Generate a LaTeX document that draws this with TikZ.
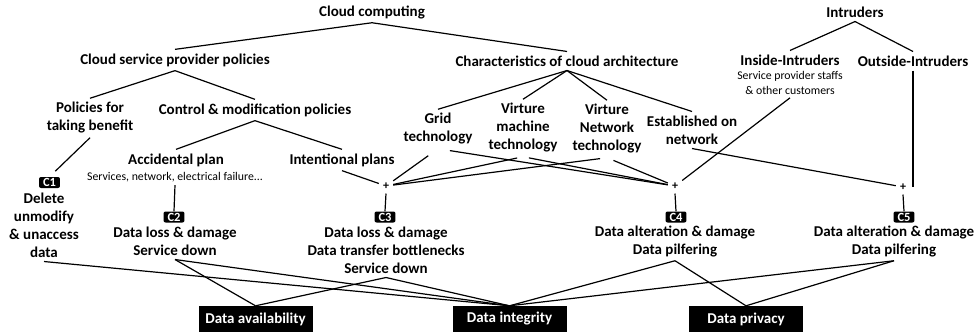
\documentclass[tikz,border=0pt]{standalone}
\usepackage{fontspec}
\setmainfont{Carlito}

\begin{document}
\begin{tikzpicture}[x=1pt, y=-1pt,
    topic/.style ={font=\fontsize{15}{18}\selectfont\bfseries, align=center, inner sep=4pt},
    remark/.style ={font=\fontsize{11.8}{15}\selectfont, align=center, inner sep=3pt},
    badge/.style ={fill=black, text=white, rounded corners=2pt, font=\fontsize{12.5}{13}\selectfont\bfseries,
                   inner xsep=4pt, inner ysep=1.5pt, text height=8pt, text depth=0pt},
    joint/.style ={font=\fontsize{12}{12}\selectfont\bfseries, inner sep=4pt},
    goal/.style ={fill=black, text=white, font=\fontsize{15}{18}\selectfont\bfseries,
                  minimum width=114pt, minimum height=26pt, inner sep=0pt}]
   \useasboundingbox (0,0) rectangle (975,332);
   % roots
   \node[topic] (cloud) at (372,12) {Cloud computing};
   \node[topic] (intr) at (855,12) {Intruders};
   \node[topic] (csp) at (175,60) {Cloud service provider policies};
   \node[topic] (arch) at (567,61) {Characteristics of cloud architecture};
   \node[topic] (inside) at (790,60) {Inside-Intruders};
   \node[remark] (insnote) at (790,83) {Service provider staffs\\\& other customers};
   \node[topic] (outside) at (913,61) {Outside-Intruders};
   % second level
   \node[topic] (benefit) at (90,118) {Policies for\\taking benefit};
   \node[topic] (control) at (255,110) {Control \& modification policies};
   \node[topic] (accid) at (176,160) {Accidental plan};
   \node[remark] (accnote) at (175,177) {Services, network, electrical failure...};
   \node[topic] (intent) at (342,160) {Intentional plans};
   \node[topic] (grid) at (438,129) {Grid\\technology};
   \node[topic] (vm) at (523,128) {Virture\\machine\\technology};
   \node[topic] (vn) at (607,129) {Virture\\Network\\technology};
   \node[topic] (est) at (692,130) {Established on\\network};
   % joints
   \node[joint] (plus3) at (386,186) {+};
   \node[joint] (plus4) at (675,186) {+};
   \node[joint] (plus5) at (903,187) {+};
   % consequences
   \node[badge] (c1) at (49.5,182.5) {C1};
   \node[topic] (t1) at (44,225) {Delete\\unmodify\\\& unaccess\\data};
   \node[badge] (c2) at (174,217) {C2};
   \node[topic] (t2) at (175,241) {Data loss \& damage\\Service down};
   \node[badge] (c3) at (385,217) {C3};
   \node[topic] (t3) at (386,250) {Data loss \& damage\\Data transfer bottlenecks\\Service down};
   \node[badge] (c4) at (676,217) {C4};
   \node[topic] (t4) at (675,241) {Data alteration \& damage\\Data pilfering};
   \node[badge] (c5) at (904,217) {C5};
   \node[topic] (t5) at (894,241) {Data alteration \& damage\\Data pilfering};
   % properties
   \node[goal] (avail) at (255.5,319) {Data availability};
   \node[goal] (integ) at (509.5,319) {Data integrity};
   \node[goal] (priv) at (746,319) {Data privacy};
   % tree
   \draw[very thick] (cloud.south) to (csp.north);
   \draw[very thick] (cloud.south) to (arch.north);
   \draw[very thick] (intr.south) to (inside.north);
   \draw[very thick] (intr.south) to (outside.north);
   \draw[very thick] (csp.south) to (benefit.north);
   \draw[very thick] (csp.south) to (control.north);
   \draw[very thick] (control.south) to (accid.north);
   \draw[very thick] (control.south) to (intent.north);
   \draw[very thick] (arch.south) to (grid.north);
   \draw[very thick] (arch.south) to (vm.north);
   \draw[very thick] (arch.south) to (vn.north);
   \draw[very thick] (arch.south) to (est.north);
   % causes
   \draw[very thick, shorten >=8pt] (benefit.south) to (c1.north);
   \draw[very thick] (accnote.south) to (c2.north);
   \draw[very thick] (intent.south) to (plus3);
   \draw[very thick, shorten <=12pt] (grid.south) to (plus3);
   \draw[very thick, shorten <=6pt] (vm.south) to (plus3);
   \draw[very thick, shorten <=7pt] (vn.south) to (plus3);
   \draw[very thick, shorten <=12pt] (grid.south) to (plus4);
   \draw[very thick, shorten <=6pt] (vm.south) to (plus4);
   \draw[very thick, shorten <=7pt] (vn.south) to (plus4);
   \draw[very thick] (insnote.south) to (plus4);
   \draw[very thick] (est.south) to (plus5);
   \draw[very thick] (outside.south) to (outside.south |- plus5.center);
   \draw[very thick] (plus3.south) to (c3.north);
   \draw[very thick] (plus4.south) to (c4.north);
   \draw[very thick] (plus5.south) to (c5.north);
   % effects
   \draw[very thick] (t1.south) to (integ.north);
   \draw[very thick] (t2.south) to (avail.north);
   \draw[very thick] (t2.south) to (integ.north);
   \draw[very thick] (t3.south) to (avail.north);
   \draw[very thick] (t3.south) to (integ.north);
   \draw[very thick] (t4.south) to (integ.north);
   \draw[very thick] (t4.south) to (priv.north);
   \draw[very thick] (t5.south) to (integ.north);
   \draw[very thick] (t5.south) to (priv.north);
 \end{tikzpicture}
\end{document}
